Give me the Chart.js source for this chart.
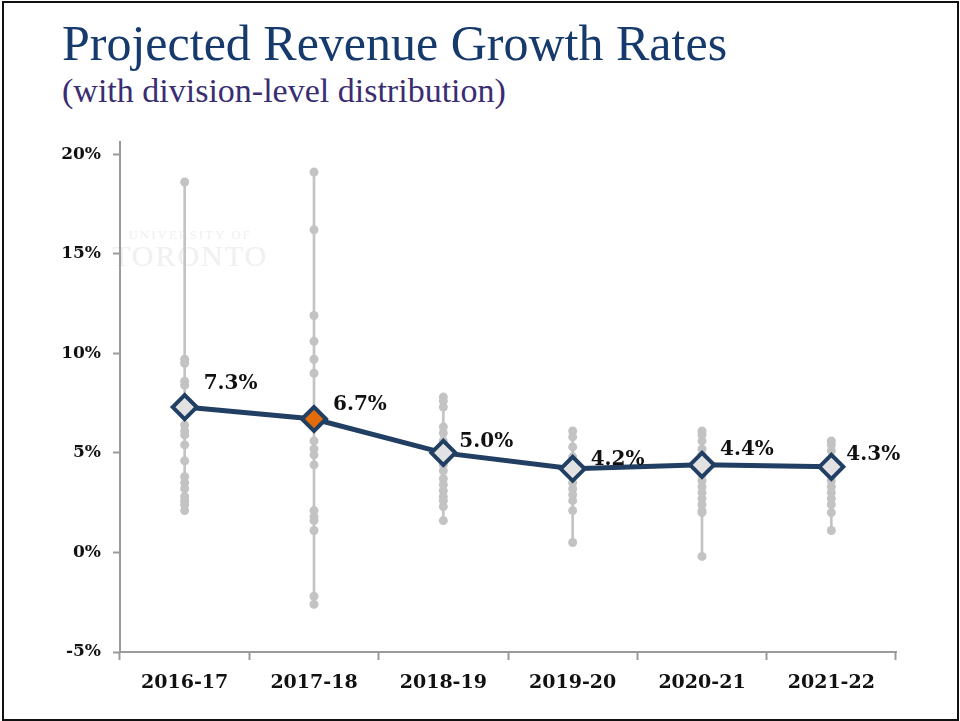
<!DOCTYPE html>
<html>
<head>
<meta charset="utf-8">
<script src="https://cdn.jsdelivr.net/npm/chart.js@4"></script>
<style>
  html, body { margin: 0; padding: 0; background: #fff; }
  body { width: 960px; height: 721px; position: relative; overflow: hidden; }
  .frame { position: absolute; left: 2px; top: 1px; width: 953px; height: 716px; border: 2px solid #111; }
  .title { position: absolute; left: 62px; top: 14px; font-family: "Liberation Serif", serif; font-size: 50px; color: #173a6c; white-space: nowrap; }
  .subtitle { position: absolute; left: 62px; top: 72px; font-family: "Liberation Serif", serif; font-size: 34px; color: #3a2d72; white-space: nowrap; }
  .mark { position: absolute; left: 112px; top: 228px; font-family: "Liberation Serif", serif; color: #f0f0f0; text-align: center; line-height: 1; }
  .chart { position: absolute; left: 0; top: 120px; width: 960px; height: 601px; }
</style>
</head>
<body>
<div class="frame"></div>
<div class="title">Projected Revenue Growth Rates</div>
<div class="subtitle">(with division-level distribution)</div>
<div class="mark"><div style="font-size:13px;letter-spacing:2px">UNIVERSITY OF</div><div style="font-size:30px;letter-spacing:2px">TORONTO</div></div>
<div class="chart"><canvas id="growthChart" width="960" height="601"></canvas></div>
<script>
// fiscal years
const years = ["2016-17", "2017-18", "2018-19", "2019-20", "2020-21", "2021-22"];
// overall projected growth (%)
const overall = [7.3, 6.7, 5.0, 4.2, 4.4, 4.3];
// division-level growth rates (%) per year
const div1617 = [18.6, 9.7, 9.5, 8.6, 8.4, 6.4, 6.1, 5.9, 5.4, 4.6, 3.8, 3.5, 3.2, 2.8, 2.6, 2.4, 2.1];
const div1718 = [19.1, 16.2, 11.9, 10.6, 9.7, 9.0, 5.6, 5.2, 4.9, 4.4, 2.1, 1.8, 1.6, 1.1, -2.2, -2.6];
const div1819 = [7.8, 7.6, 7.3, 6.3, 6.0, 5.6, 4.4, 4.1, 3.7, 3.4, 3.1, 2.8, 2.6, 2.3, 1.6];
const div1920 = [6.1, 5.8, 5.3, 4.8, 3.9, 3.5, 3.2, 2.9, 2.6, 2.1, 0.5];
const div2021 = [6.1, 5.9, 5.6, 5.2, 4.9, 3.9, 3.6, 3.3, 3.0, 2.7, 2.4, 2.1, 2.0, -0.2];
const div2122 = [5.6, 5.4, 5.1, 4.0, 3.6, 3.3, 3.0, 2.7, 2.4, 2.0, 1.1];
// y axis ticks (%)
const yTicks = [-5, 0, 5, 10, 15, 20];

const divisions = [div1617, div1718, div1819, div1920, div2021, div2122];
const ranges = divisions.map(d => [Math.min(...d), Math.max(...d)]);
const dots = [];
divisions.forEach((d, i) => d.forEach(v => dots.push({ x: years[i], y: v })));

const navy = "#213e63";
const gray = "#c3c3c3";
const serif = "'DejaVu Serif', serif";

// value labels up and to the right of each diamond
const labelPlugin = {
  id: "valueLabels",
  afterDatasetsDraw(chart, args, opts) {
    const meta = chart.getDatasetMeta(0);
    const c = chart.ctx;
    c.save();
    c.font = "bold 20px " + serif;
    c.fillStyle = "#111";
    c.textAlign = "left";
    c.textBaseline = "middle";
    meta.data.forEach((pt, i) => {
      const off = opts.offsets[i];
      c.fillText(overall[i].toFixed(1) + "%", pt.x + off[0], pt.y + off[1]);
    });
    c.restore();
  }
};

const ctx = document.getElementById("growthChart").getContext("2d");
const growthChart = new Chart(ctx, {
  data: {
    labels: years,
    datasets: [
      {
        type: "line",
        label: "Overall",
        data: overall,
        borderColor: navy,
        borderWidth: 5,
        tension: 0,
        pointStyle: "rectRot",
        pointRadius: 12,
        pointBorderWidth: 4,
        pointBorderColor: navy,
        pointBackgroundColor: overall.map((v, i) => (i === 1 ? "#e36c0a" : "#e2e2e2")),
        order: 0,
      },
      {
        type: "line",
        label: "Divisions",
        data: dots,
        showLine: false,
        pointRadius: 4.5,
        pointBorderWidth: 0,
        pointBackgroundColor: gray,
        order: 1,
      },
      {
        type: "bar",
        label: "Range",
        data: ranges,
        backgroundColor: gray,
        barThickness: 2,
        order: 2,
      },
    ],
  },
  options: {
    responsive: false,
    animation: false,
    layout: { padding: { left: 40, right: 64, top: 4, bottom: 19 } },
    plugins: {
      legend: { display: false },
      tooltip: { enabled: false },
      valueLabels: { offsets: [[19, -23], [19, -14], [16, -11], [18, -9], [18, -15], [15, -12]] },
    },
    scales: {
      x: {
        offset: true,
        grid: { offset: true, drawOnChartArea: false, drawTicks: true, tickLength: 8, tickColor: "#9a9a9a", tickWidth: 2 },
        border: { color: "#9a9a9a", width: 2 },
        ticks: { color: "#111", padding: 12, font: { family: serif, weight: "bold", size: 19 } },
        afterFit(scale) { scale.height = 50; },
      },
      y: {
        min: -5,
        max: 20.6,
        afterBuildTicks(scale) { scale.ticks = yTicks.map(v => ({ value: v })); },
        grid: { drawOnChartArea: false, drawTicks: true, tickLength: 7, tickColor: "#9a9a9a", tickWidth: 2 },
        border: { color: "#9a9a9a", width: 2 },
        ticks: { color: "#111", padding: 12, font: { family: serif, weight: "bold", size: 17 }, callback: v => v + "%" },
        afterFit(scale) { scale.width = 80; },
      },
    },
  },
  plugins: [labelPlugin],
});
</script>
</body>
</html>
